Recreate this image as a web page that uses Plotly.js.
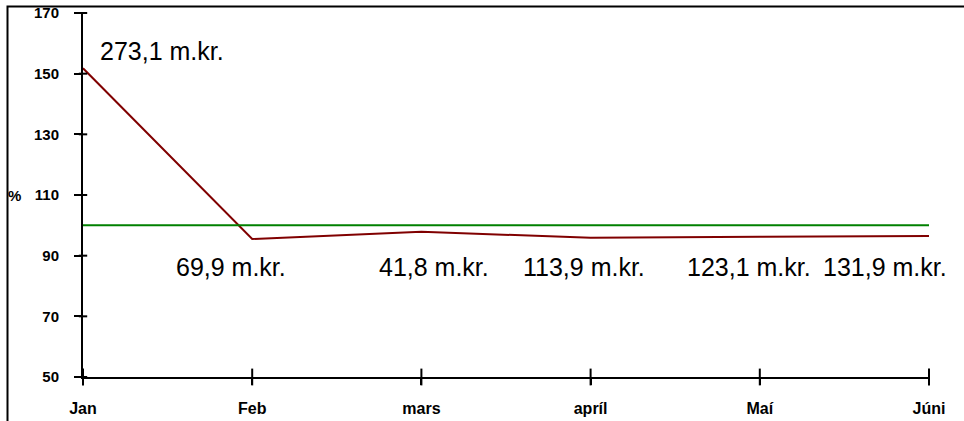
<!DOCTYPE html>
<html>
<head>
<meta charset="utf-8">
<script src="https://cdn.plot.ly/plotly-3.0.1.min.js"></script>
<style>html,body{margin:0;padding:0;background:#fff;}#chart{width:964px;height:421px;}</style>
</head>
<body>
<div id="chart"></div>
<script>
// Data
const months = ["Jan", "Feb", "mars", "apríl", "Maí", "Júni"];
const indexPct = [151.8, 95.5, 97.9, 95.9, 96.2, 96.5];
const baseline = [100, 100, 100, 100, 100, 100];
const amountLabels = ["273,1 m.kr.", "69,9 m.kr.", "41,8 m.kr.", "113,9 m.kr.", "123,1 m.kr.", "131,9 m.kr."];
const yTicks = [50, 70, 90, 110, 130, 150, 170];

// label placement (layout only)
const labelXShift = [15, -21, 13, -7, -11, -44];
const labelYShift = [17, -28, -35, -29, -30, -31];
const labelAnchor = ["left", "center", "center", "center", "center", "center"];

const yTickFont = {family: "Arial, 'Liberation Sans', sans-serif", size: 15, color: "#000", weight: "bold"};
const xTickFont = {family: "Arial, 'Liberation Sans', sans-serif", size: 16, color: "#000", weight: "bold"};

const xIdx = months.map((m, i) => i);
const yMin = yTicks[0], yMax = yTicks[yTicks.length - 1];

const traces = [
  {x: xIdx, y: indexPct, type: "scatter", mode: "lines", line: {color: "#800000", width: 2}, hoverinfo: "skip", showlegend: false},
  {x: xIdx, y: baseline, type: "scatter", mode: "lines", line: {color: "#008000", width: 2}, hoverinfo: "skip", showlegend: false},
  // upper halves of the crossing tick marks
  {x: xIdx, y: xIdx.map(() => yMin), type: "scatter", mode: "markers", cliponaxis: false,
   marker: {symbol: "line-ns", size: 12, line: {width: 2, color: "#000"}}, hoverinfo: "skip", showlegend: false},
  {x: yTicks.map(() => 0), y: yTicks, type: "scatter", mode: "markers", cliponaxis: false,
   marker: {symbol: "line-ew", size: 6, line: {width: 2, color: "#000"}}, hoverinfo: "skip", showlegend: false}
];

const annotations = amountLabels.map((t, i) => ({
  x: i, y: indexPct[i], xref: "x", yref: "y",
  text: t, showarrow: false, xanchor: labelAnchor[i], yanchor: "middle",
  xshift: labelXShift[i], yshift: labelYShift[i],
  font: {family: "Arial, 'Liberation Sans', sans-serif", size: 25, color: "#000"}
}));
annotations.push({
  xref: "paper", yref: "y", x: -0.081, y: 110, text: "%", showarrow: false,
  xanchor: "center", yanchor: "middle", font: yTickFont
});

const W = 964, H = 421, L = 83, R = 35, T = 13, B = 44;
const pw = W - L - R, ph = H - T - B;
const px2x = p => (p - L) / pw;
const px2y = p => (H - B - p) / ph;

const layout = {
  width: W, height: H,
  margin: {l: L, r: R, t: T, b: B, pad: 0},
  paper_bgcolor: "#fff", plot_bgcolor: "rgba(0,0,0,0)",
  showlegend: false,
  xaxis: {
    range: [0, months.length - 1], tickmode: "array", tickvals: xIdx, ticktext: months,
    showgrid: false, zeroline: false,
    showline: true, linecolor: "#000", linewidth: 2,
    ticks: "outside", ticklen: 6, tickwidth: 2, tickcolor: "#000",
    tickfont: xTickFont, ticklabelstandoff: 10
  },
  yaxis: {
    range: [yMin, yMax], tickmode: "array", tickvals: yTicks, showgrid: false, zeroline: false,
    showline: true, linecolor: "#000", linewidth: 2,
    ticks: "outside", ticklen: 7, tickwidth: 2, tickcolor: "#000",
    tickfont: yTickFont, ticklabelstandoff: 12
  },
  annotations: annotations,
  shapes: [{
    type: "rect", xref: "paper", yref: "paper",
    x0: px2x(7.5), x1: px2x(990), y0: px2y(460), y1: px2y(6.5),
    line: {color: "#000", width: 2}, fillcolor: "rgba(0,0,0,0)", layer: "above"
  }]
};

Plotly.newPlot("chart", traces, layout, {staticPlot: true, displayModeBar: false});
</script>
</body>
</html>
